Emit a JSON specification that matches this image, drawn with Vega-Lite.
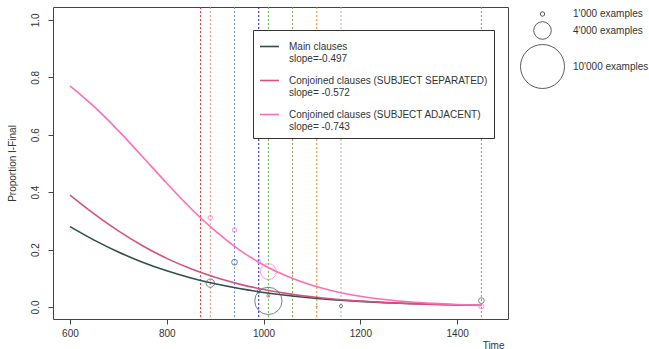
{
  "$schema": "https://vega.github.io/schema/vega-lite/v6.json",
  "autosize": {"type": "none"},
  "width": 455,
  "height": 312,
  "padding": {"left": 53, "top": 7, "right": 141, "bottom": 30},
  "background": "white",
  "config": {
    "view": {"stroke": "#444", "strokeWidth": 1},
    "font": "Liberation Sans",
    "axis": {"labelFont": "Liberation Sans", "titleFont": "Liberation Sans", "labelFontSize": 10, "titleFontSize": 10, "titleFontWeight": "normal", "labelColor": "#333", "titleColor": "#333", "tickColor": "#444", "domain": false, "grid": false, "tickSize": 5},
    "legend": {"labelFont": "Liberation Sans", "labelFontSize": 10, "labelColor": "#333"}
  },
  "datasets": {
    "curves": [
      {"series": "Main clauses", "time": 600, "p": 0.280},
      {"series": "Main clauses", "time": 650, "p": 0.2328},
      {"series": "Main clauses", "time": 700, "p": 0.1914},
      {"series": "Main clauses", "time": 750, "p": 0.1558},
      {"series": "Main clauses", "time": 800, "p": 0.1259},
      {"series": "Main clauses", "time": 850, "p": 0.1010},
      {"series": "Main clauses", "time": 900, "p": 0.0805},
      {"series": "Main clauses", "time": 950, "p": 0.0640},
      {"series": "Main clauses", "time": 1000, "p": 0.0506},
      {"series": "Main clauses", "time": 1050, "p": 0.0399},
      {"series": "Main clauses", "time": 1100, "p": 0.0314},
      {"series": "Main clauses", "time": 1150, "p": 0.0247},
      {"series": "Main clauses", "time": 1200, "p": 0.0193},
      {"series": "Main clauses", "time": 1250, "p": 0.0152},
      {"series": "Main clauses", "time": 1300, "p": 0.0119},
      {"series": "Main clauses", "time": 1350, "p": 0.0093},
      {"series": "Main clauses", "time": 1400, "p": 0.0072},
      {"series": "Main clauses", "time": 1450, "p": 0.0057},
      {"series": "Conjoined clauses (SUBJECT SEPARATED)", "time": 600, "p": 0.390},
      {"series": "Conjoined clauses (SUBJECT SEPARATED)", "time": 650, "p": 0.3245},
      {"series": "Conjoined clauses (SUBJECT SEPARATED)", "time": 700, "p": 0.2652},
      {"series": "Conjoined clauses (SUBJECT SEPARATED)", "time": 750, "p": 0.2133},
      {"series": "Conjoined clauses (SUBJECT SEPARATED)", "time": 800, "p": 0.1692},
      {"series": "Conjoined clauses (SUBJECT SEPARATED)", "time": 850, "p": 0.1327},
      {"series": "Conjoined clauses (SUBJECT SEPARATED)", "time": 900, "p": 0.1031},
      {"series": "Conjoined clauses (SUBJECT SEPARATED)", "time": 950, "p": 0.0795},
      {"series": "Conjoined clauses (SUBJECT SEPARATED)", "time": 1000, "p": 0.0609},
      {"series": "Conjoined clauses (SUBJECT SEPARATED)", "time": 1050, "p": 0.0465},
      {"series": "Conjoined clauses (SUBJECT SEPARATED)", "time": 1100, "p": 0.0353},
      {"series": "Conjoined clauses (SUBJECT SEPARATED)", "time": 1150, "p": 0.0268},
      {"series": "Conjoined clauses (SUBJECT SEPARATED)", "time": 1200, "p": 0.0203},
      {"series": "Conjoined clauses (SUBJECT SEPARATED)", "time": 1250, "p": 0.0153},
      {"series": "Conjoined clauses (SUBJECT SEPARATED)", "time": 1300, "p": 0.0115},
      {"series": "Conjoined clauses (SUBJECT SEPARATED)", "time": 1350, "p": 0.0087},
      {"series": "Conjoined clauses (SUBJECT SEPARATED)", "time": 1400, "p": 0.0065},
      {"series": "Conjoined clauses (SUBJECT SEPARATED)", "time": 1450, "p": 0.0049},
      {"series": "Conjoined clauses (SUBJECT ADJACENT)", "time": 600, "p": 0.770},
      {"series": "Conjoined clauses (SUBJECT ADJACENT)", "time": 650, "p": 0.6977},
      {"series": "Conjoined clauses (SUBJECT ADJACENT)", "time": 700, "p": 0.6142},
      {"series": "Conjoined clauses (SUBJECT ADJACENT)", "time": 750, "p": 0.5234},
      {"series": "Conjoined clauses (SUBJECT ADJACENT)", "time": 800, "p": 0.4310},
      {"series": "Conjoined clauses (SUBJECT ADJACENT)", "time": 850, "p": 0.3431},
      {"series": "Conjoined clauses (SUBJECT ADJACENT)", "time": 900, "p": 0.2648},
      {"series": "Conjoined clauses (SUBJECT ADJACENT)", "time": 950, "p": 0.1990},
      {"series": "Conjoined clauses (SUBJECT ADJACENT)", "time": 1000, "p": 0.1463},
      {"series": "Conjoined clauses (SUBJECT ADJACENT)", "time": 1050, "p": 0.1057},
      {"series": "Conjoined clauses (SUBJECT ADJACENT)", "time": 1100, "p": 0.0754},
      {"series": "Conjoined clauses (SUBJECT ADJACENT)", "time": 1150, "p": 0.0532},
      {"series": "Conjoined clauses (SUBJECT ADJACENT)", "time": 1200, "p": 0.0373},
      {"series": "Conjoined clauses (SUBJECT ADJACENT)", "time": 1250, "p": 0.0260},
      {"series": "Conjoined clauses (SUBJECT ADJACENT)", "time": 1300, "p": 0.0181},
      {"series": "Conjoined clauses (SUBJECT ADJACENT)", "time": 1350, "p": 0.0126},
      {"series": "Conjoined clauses (SUBJECT ADJACENT)", "time": 1400, "p": 0.0087},
      {"series": "Conjoined clauses (SUBJECT ADJACENT)", "time": 1450, "p": 0.0060}
    ],
    "points": [
      {"series": "Main clauses", "time": 890, "p": 0.083, "n": 1900},
      {"series": "Main clauses", "time": 940, "p": 0.156, "n": 1300},
      {"series": "Main clauses", "time": 990, "p": 0.054, "n": 800},
      {"series": "Main clauses", "time": 1010, "p": 0.021, "n": 6200},
      {"series": "Main clauses", "time": 1110, "p": 0.031, "n": 300},
      {"series": "Main clauses", "time": 1160, "p": 0.003, "n": 700},
      {"series": "Main clauses", "time": 1450, "p": 0.022, "n": 1300},
      {"series": "Conjoined clauses (SUBJECT ADJACENT)", "time": 890, "p": 0.311, "n": 1000},
      {"series": "Conjoined clauses (SUBJECT ADJACENT)", "time": 940, "p": 0.268, "n": 1000},
      {"series": "Conjoined clauses (SUBJECT ADJACENT)", "time": 990, "p": 0.158, "n": 900},
      {"series": "Conjoined clauses (SUBJECT ADJACENT)", "time": 1010, "p": 0.123, "n": 3600},
      {"series": "Conjoined clauses (SUBJECT ADJACENT)", "time": 1060, "p": 0.33, "n": 200},
      {"series": "Conjoined clauses (SUBJECT ADJACENT)", "time": 1110, "p": 0.132, "n": 200},
      {"series": "Conjoined clauses (SUBJECT ADJACENT)", "time": 1450, "p": 0.002, "n": 1200},
      {"series": "Conjoined clauses (SUBJECT SEPARATED)", "time": 1010, "p": 0.039, "n": 700},
      {"series": "Conjoined clauses (SUBJECT SEPARATED)", "time": 1060, "p": 0.118, "n": 200},
      {"series": "Conjoined clauses (SUBJECT SEPARATED)", "time": 1110, "p": 0.002, "n": 200}
    ],
    "periods": [
      {"period": "870", "time": 870},
      {"period": "890", "time": 890},
      {"period": "940", "time": 940},
      {"period": "990", "time": 990},
      {"period": "1010", "time": 1010},
      {"period": "1060", "time": 1060},
      {"period": "1110", "time": 1110},
      {"period": "1160", "time": 1160},
      {"period": "1450", "time": 1450}
    ]
  },
  "resolve": {"scale": {"color": "independent"}, "legend": {"color": "independent"}},
  "layer": [
    {
      "data": {"name": "periods"},
      "mark": {"type": "rule", "strokeDash": [2, 2], "strokeWidth": 1},
      "encoding": {
        "x": {"field": "time", "type": "quantitative", "scale": {"domain": [565, 1505], "nice": false, "zero": false},
          "axis": {"values": [600, 800, 1000, 1200, 1400], "format": "d", "labelPadding": 4, "title": "Time", "titleX": 451, "titleY": 26, "titleAlign": "right", "titleBaseline": "middle", "titleAnchor": "end"}},
        "color": {"field": "period", "type": "nominal", "legend": null,
          "scale": {"domain": ["870", "890", "940", "990", "1010", "1060", "1110", "1160", "1450"],
            "range": ["#ff2020", "#f08878", "#7090f0", "#1818f0", "#60b860", "#78a048", "#e8801c", "#c8a8a0", "#909090"]}}
      }
    },
    {
      "data": {"name": "curves"},
      "mark": {"type": "line", "strokeWidth": 1.6, "interpolate": "monotone"},
      "encoding": {
        "x": {"field": "time", "type": "quantitative"},
        "y": {"field": "p", "type": "quantitative", "scale": {"domain": [-0.042, 1.045], "nice": false, "zero": false},
          "axis": {"values": [0, 0.2, 0.4, 0.6, 0.8, 1.0], "format": ".1f", "labelAngle": -90, "labelAlign": "center", "labelBaseline": "bottom", "labelPadding": 8,
            "title": "Proportion I-Final", "titleAngle": -90, "titleX": -36, "titleY": 156, "titleAlign": "center", "titleBaseline": "bottom"}},
        "color": {"field": "series", "type": "nominal",
          "scale": {"domain": ["Main clauses", "Conjoined clauses (SUBJECT SEPARATED)", "Conjoined clauses (SUBJECT ADJACENT)"], "range": ["#2f4f4f", "#d6517f", "#ff6eb4"]},
          "legend": {"orient": "none", "legendX": 200, "legendY": 23, "title": null, "symbolType": "stroke", "symbolSize": 361, "symbolStrokeWidth": 1.6,
            "labelOffset": 9, "rowPadding": 6, "padding": 6, "strokeColor": "#333", "fillColor": "white", "labelLimit": 300,
            "labelExpr": "datum.value == 'Main clauses' ? ['Main clauses', 'slope=-0.497'] : datum.value == 'Conjoined clauses (SUBJECT SEPARATED)' ? ['Conjoined clauses (SUBJECT SEPARATED)', 'slope= -0.572'] : ['Conjoined clauses (SUBJECT ADJACENT)', 'slope= -0.743']"}}
      }
    },
    {
      "data": {"name": "points"},
      "mark": {"type": "point", "shape": "circle", "filled": false, "strokeWidth": 0.8, "opacity": 1},
      "encoding": {
        "x": {"field": "time", "type": "quantitative"},
        "y": {"field": "p", "type": "quantitative"},
        "stroke": {"field": "series", "type": "nominal", "legend": null,
          "scale": {"domain": ["Main clauses", "Conjoined clauses (SUBJECT SEPARATED)", "Conjoined clauses (SUBJECT ADJACENT)"], "range": ["#4a6a66", "#d6517f", "#ff80c0"]}},
        "size": {"field": "n", "type": "quantitative",
          "scale": {"type": "pow", "exponent": 2, "domain": [0, 10000], "range": [0, 1936]},
          "legend": {"orient": "none", "legendX": 467, "legendY": 2, "title": null, "values": [1000, 4000, 10000], "symbolType": "circle",
            "symbolStrokeColor": "#333", "symbolFillColor": "transparent", "symbolStrokeWidth": 0.8, "labelOffset": 8, "rowPadding": 1, "padding": 0,
            "labelExpr": "datum.value == 1000 ? \"1'000 examples\" : datum.value == 4000 ? \"4'000 examples\" : \"10'000 examples\""}}
      }
    }
  ]
}
